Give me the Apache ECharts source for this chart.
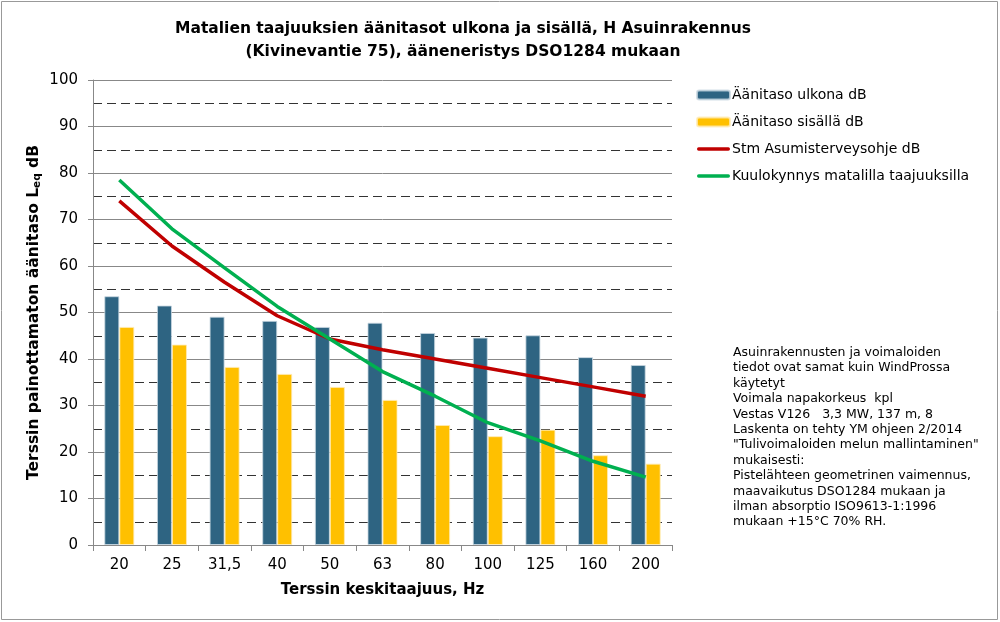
<!DOCTYPE html>
<html>
<head>
<meta charset="utf-8">
<script src="https://cdn.jsdelivr.net/npm/echarts@6/dist/echarts.min.js"></script>
<style>html,body{margin:0;padding:0;background:#fff}#c{width:1000px;height:622px}</style>
</head>
<body>
<div id="c"></div>
<script>
const categories = ['20','25','31,5','40','50','63','80','100','125','160','200'];
const ulkona = [53.5, 51.5, 49.1, 48.2, 46.9, 47.8, 45.6, 44.6, 45.1, 40.4, 38.7];
const sisalla = [46.9, 43.1, 38.3, 36.8, 34.0, 31.2, 25.8, 23.4, 24.8, 19.3, 17.5];
const stm = [74, 64.3, 56.5, 49.3, 44.3, 42, 40, 38, 36, 34, 32];
const kuulo = [78.5, 68.0, 59.6, 51.3, 44.3, 37.3, 32.0, 26.3, 22.4, 18.0, 14.6];
const seriesNames = ['Äänitaso ulkona dB', 'Äänitaso sisällä dB', 'Stm Asumisterveysohje dB', 'Kuulokynnys matalilla taajuuksilla'];
const noteLines = [
  'Asuinrakennusten ja voimaloiden',
  'tiedot ovat samat kuin WindProssa',
  'käytetyt',
  'Voimala napakorkeus  kpl',
  'Vestas V126   3,3 MW, 137 m, 8',
  'Laskenta on tehty YM ohjeen 2/2014',
  '"Tulivoimaloiden melun mallintaminen"',
  'mukaisesti:',
  'Pistelähteen geometrinen vaimennus,',
  'maavaikutus DSO1284 mukaan ja',
  'ilman absorptio ISO9613-1:1996',
  'mukaan +15°C 70% RH.'
];

const FONT = 'DejaVu Sans';
const lineIcon = 'path://M2,0 L38,0 A2,2 0 0 1 38,4 L2,4 A2,2 0 0 1 2,0 Z';
const chart = echarts.init(document.getElementById('c'));
chart.setOption({
  animation: false,
  textStyle: { fontFamily: FONT, color: '#000' },
  title: {
    text: 'Matalien taajuuksien äänitasot ulkona ja sisällä, H Asuinrakennus\n(Kivinevantie 75), ääneneristys DSO1284 mukaan',
    left: 458, top: 12, textAlign: 'center',
    textStyle: { fontFamily: FONT, fontSize: 15.5, fontWeight: 'bold', color: '#000', lineHeight: 23 }
  },
  legend: {
    orient: 'vertical', left: 691, top: 83,
    itemWidth: 33, itemHeight: 9, itemGap: 13,
    textStyle: { fontFamily: FONT, fontSize: 14, color: '#000', padding: [0, 0, 0, -3] },
    data: [
      { name: seriesNames[0] },
      { name: seriesNames[1] },
      { name: seriesNames[2], icon: lineIcon },
      { name: seriesNames[3], icon: lineIcon }
    ]
  },
  grid: { left: 93, right: 328, top: 80, bottom: 77 },
  xAxis: {
    type: 'category', data: categories,
    name: 'Terssin keskitaajuus, Hz', nameLocation: 'middle', nameGap: 38,
    nameTextStyle: { fontFamily: FONT, fontSize: 15, fontWeight: 'bold', color: '#000' },
    axisLine: { lineStyle: { color: '#888', width: 1 } },
    axisTick: { show: true, length: 6, alignWithLabel: false, lineStyle: { color: '#888' } },
    axisLabel: { fontFamily: FONT, fontSize: 15, color: '#000', margin: 13 }
  },
  yAxis: [{
    type: 'value', min: 0, max: 100, interval: 10,
    name: '{a|Terssin painottamaton äänitaso L}{b|eq}{a| dB}', nameLocation: 'middle', nameGap: 50,
    nameMoveOverlap: false,
    nameTextStyle: { rich: {
      a: { fontFamily: FONT, fontSize: 15.5, fontWeight: 'bold', color: '#000' },
      b: { fontFamily: FONT, fontSize: 10.5, fontWeight: 'bold', color: '#000', padding: [8, 0, 0, 0] }
    } },
    axisLine: { show: true, lineStyle: { color: '#888', width: 1 } },
    axisTick: { show: true, length: 5, lineStyle: { color: '#888' } },
    axisLabel: { fontFamily: FONT, fontSize: 15, color: '#000', margin: 15 },
    splitLine: { show: true, lineStyle: { color: '#888', width: 1 } }
  }, {
    type: 'value', min: 0, max: 100, interval: 5, position: 'left',
    axisLine: { show: false }, axisTick: { show: false }, axisLabel: { show: false },
    splitLine: { show: true, lineStyle: { color: ['rgba(0,0,0,0)', '#333'], type: [9, 5], width: 1 } }
  }],
  series: [
    { name: seriesNames[0], type: 'bar', data: ulkona, barGap: '0%', barCategoryGap: '43%',
      itemStyle: { color: '#2E6482', borderColor: 'rgba(200,215,225,0.8)', borderWidth: 1 } },
    { name: seriesNames[1], type: 'bar', data: sisalla,
      itemStyle: { color: '#FFC000', borderColor: 'rgba(255,235,180,0.8)', borderWidth: 1 } },
    { name: seriesNames[2], type: 'line', data: stm, symbol: 'none',
      lineStyle: { color: '#C00000', width: 3.5 }, itemStyle: { color: '#C00000' } },
    { name: seriesNames[3], type: 'line', data: kuulo, symbol: 'none',
      lineStyle: { color: '#00B050', width: 3.5 }, itemStyle: { color: '#00B050' } }
  ],
  graphic: [
    { type: 'rect', shape: { x: 1.5, y: 1.5, width: 996, height: 618 }, style: { fill: 'none', stroke: '#999', lineWidth: 1 }, silent: true },
    { type: 'text', left: 733, top: 345, style: { text: noteLines.join('\n'), fontFamily: FONT, fontSize: 12.5, lineHeight: 15.4, fill: '#000' } }
  ]
});
</script>
</body>
</html>
